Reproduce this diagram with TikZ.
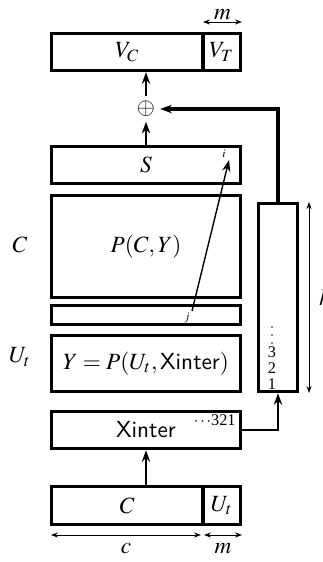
\documentclass[tikz,border=0pt]{standalone}
\usepackage{mathptmx}
\usepackage[no-math]{fontspec}
\setmainfont{Liberation Serif}
\usetikzlibrary{arrows.meta}

\newcommand\pxl{0.43pt}

\tikzset{
  blk/.style={draw,line width=1.5pt,inner sep=0pt},
  dim/.style={<->,>={Stealth[length=3pt,width=2.2pt]},line width=0.35pt},
}

\begin{document}
\begin{tikzpicture}[x=\pxl,y=-\pxl,>={Stealth[length=5pt,width=3.6pt]}]
\useasboundingbox (0,0) rectangle (322,562);

% output
\node[blk,minimum width=151.5*\pxl,minimum height=37*\pxl] (VC) at (127.25,52) {$V_C$};
\node[blk,minimum width=37.5*\pxl,minimum height=37*\pxl] (VT) at (221.75,52) {$V_T$};
\node[inner sep=2pt] (plus) at (146,109) {$\oplus$};

% middle column
\node[blk,minimum width=189*\pxl,minimum height=37*\pxl] (S) at (146,165) {$S$};
\node[blk,minimum width=189*\pxl,minimum height=102*\pxl] (PCY) at (146,246.5) {$P(C,Y)$};
\node[blk,minimum width=189*\pxl,minimum height=19*\pxl] (thin) at (146,315) {};
\node[blk,minimum width=189*\pxl,minimum height=56*\pxl] (Y) at (146,363.5) {$Y=P(U_t,\textsf{Xinter})$};
\node[blk,minimum width=189*\pxl,minimum height=37*\pxl] (X) at (146,430) {\textsf{Xinter}};
\node[font=\scriptsize,inner sep=0pt,anchor=east] (seq) at (236,420) {$\cdots$321};

% input
\node[blk,minimum width=151.5*\pxl,minimum height=38*\pxl] (C) at (127.25,505.5) {$C$};
\node[blk,minimum width=37.5*\pxl,minimum height=38*\pxl] (U) at (221.75,505.5) {$U_t$};

% stack
\node[blk,minimum width=39*\pxl,minimum height=188*\pxl] (stack) at (278,297.5) {};
\foreach \n/\y in {1/384,2/368,3/352}
  \node[font=\scriptsize,inner sep=0pt] (n\n) at (272,\y) {\n};
\foreach \y in {327,335,343}
  \fill (272,\y) circle (0.4pt);

% side labels
\node (lC) at (20,245) {$C$};
\node (lU) at (20,357) {$U_t$};

% arrows
\draw[->,semithick] (X |- C.north) -- (X.south);
\draw[->,line width=1pt] (X.east) -| (stack.south);
\draw[->,line width=1.3pt] (stack.north) |- (plus.east);
\draw[->,thick] (S.north) -- (plus.south);
\draw[->,thick] (plus.north) -- (plus |- VC.south);

% i -- j
\coordinate (jp) at (192,311);
\coordinate (ip) at (229,160);
\draw[->,semithick] (jp) -- (ip);
\node[font=\tiny] (jl) at (187,318) {$j$};
\node[font=\tiny] (il) at (224,154) {$i$};

% dimensions
\coordinate (mt1) at (203,22);
\coordinate (mt2) at (242,22);
\draw[dim] (mt1) -- node[above,inner sep=1pt] {$m$} (mt2);
\coordinate (cb1) at (51,535);
\coordinate (cb2) at (201,535);
\draw[dim] (cb1) -- node[below] {$c$} (cb2);
\coordinate (mb1) at (204,535);
\coordinate (mb2) at (242,535);
\draw[dim] (mb1) -- node[below] {$m$} (mb2);
\coordinate (k1) at (309,202);
\coordinate (k2) at (309,393);
\draw[dim] (k1) -- node[right=1pt] {$k$} (k2);
\end{tikzpicture}
\end{document}
